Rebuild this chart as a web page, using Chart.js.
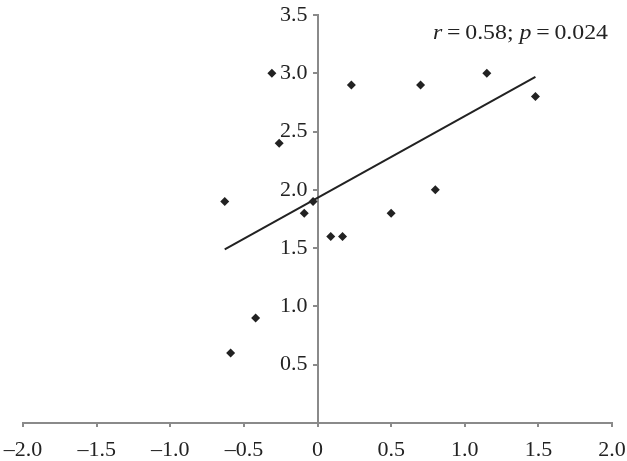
<!DOCTYPE html>
<html>
<head>
<meta charset="utf-8">
<script src="https://cdn.jsdelivr.net/npm/chart.js@4/dist/chart.umd.min.js"></script>
<style>
  html, body { margin: 0; padding: 0; background: #fff; }
  #wrap { width: 627px; height: 461px; }
</style>
</head>
<body>
<div id="wrap"><canvas id="c"></canvas></div>
<script>
// points
const xVals = [-0.31, 0.23, 0.70, 1.15, 1.48, -0.26, -0.63, -0.09, -0.03, 0.09, 0.17, 0.50, 0.80, -0.42, -0.59];
const yVals = [3.0, 2.9, 2.9, 3.0, 2.8, 2.4, 1.9, 1.8, 1.9, 1.6, 1.6, 1.8, 2.0, 0.9, 0.6];
// fitted line ends
const fitX = [-0.63, 1.48];
const fitY = [1.49, 2.97];
const statText = ["r", "\u2009=\u20090.58; ", "p", "\u2009=\u20090.024"];

const serif = "'Liberation Serif', 'Times New Roman', serif";
const axisColor = "#8a8a8a";
const ink = "#222";

const fmt = (v) => {
  if (Math.abs(v) < 1e-9) return "0";
  const s = Math.abs(v).toFixed(1);
  return v < 0 ? "\u2013" + s : s;
};

const statPlugin = {
  id: "stat",
  afterDraw(chart) {
    const ctx = chart.ctx;
    ctx.save();
    ctx.fillStyle = ink;
    ctx.textBaseline = "alphabetic";
    const fonts = statText.map((t, i) => (i % 2 === 0 ? "italic " : "") + "22px " + serif);
    let total = 0;
    statText.forEach((t, i) => { ctx.font = fonts[i]; total += ctx.measureText(t).width; });
    ctx.translate(433, 39);
    ctx.scale(175 / total, 1);
    let x = 0;
    statText.forEach((t, i) => {
      ctx.font = fonts[i];
      ctx.fillText(t, x, 0);
      x += ctx.measureText(t).width;
    });
    ctx.restore();
  }
};

new Chart(document.getElementById("c"), {
  type: "scatter",
  data: {
    datasets: [
      {
        data: xVals.map((x, i) => ({ x, y: yVals[i] })),
        pointStyle: "rectRot",
        radius: 4.5,
        backgroundColor: ink,
        borderColor: ink,
        borderWidth: 0,
      },
      {
        type: "line",
        data: fitX.map((x, i) => ({ x, y: fitY[i] })),
        borderColor: ink,
        borderWidth: 2,
        pointRadius: 0,
        fill: false,
      },
    ],
  },
  options: {
    responsive: true,
    maintainAspectRatio: false,
    animation: false,
    layout: { padding: 0 },
    plugins: { legend: { display: false }, tooltip: { enabled: false } },
    scales: {
      x: {
        type: "linear",
        min: -2,
        max: 2,
        position: "bottom",
        afterFit: (s) => { s.height = 38; s.paddingLeft = 23; s.paddingRight = 15; },
        grid: { drawOnChartArea: false, tickLength: 4, color: axisColor, lineWidth: 2 },
        border: { color: axisColor, width: 2 },
        ticks: { stepSize: 0.5, color: ink, font: { family: serif, size: 22 }, padding: 10, maxRotation: 0, callback: fmt },
      },
      y: {
        type: "linear",
        min: 0,
        max: 3.5,
        position: { x: 0 },
        afterFit: (s) => { s.paddingTop = 15; s.paddingBottom = 0; },
        grid: { drawOnChartArea: false, tickLength: 4, color: axisColor, lineWidth: 2 },
        border: { color: axisColor, width: 2 },
        ticks: { stepSize: 0.5, color: ink, font: { family: serif, size: 22 },
          callback: (v) => (v === 0 ? "" : fmt(v) + " \u2009") },
      },
    },
  },
  plugins: [statPlugin],
});
</script>
</body>
</html>
